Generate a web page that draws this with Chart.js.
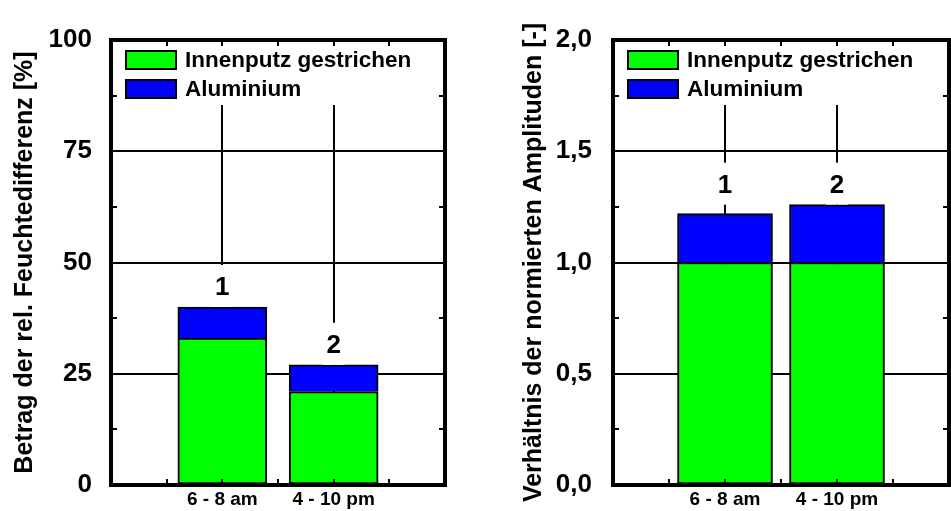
<!DOCTYPE html>
<html>
<head>
<meta charset="utf-8">
<script src="https://cdn.jsdelivr.net/npm/chart.js"></script>
<style>
  html, body { margin: 0; padding: 0; background: #fff; }
  #wrap { position: relative; width: 951px; height: 511px; }
  #left { position: absolute; left: 0; top: 0; }
  #right { position: absolute; left: 480px; top: 0; }
</style>
</head>
<body>
<div id="wrap">
  <canvas id="left" width="480" height="511"></canvas>
  <canvas id="right" width="471" height="511"></canvas>
</div>
<script>
// data
const categories = ['6 - 8 am', '4 - 10 pm'];
const barNumbers = ['1', '2'];
const seriesNames = ['Innenputz gestrichen', 'Aluminium'];
const seriesColors = ['#00ff00', '#0000ff'];

// left chart: Betrag der rel. Feuchtedifferenz [%]
const leftInnenputz = [33, 21];
const leftAluminium = [7, 6];
const leftTicks = [0, 25, 50, 75, 100];

// right chart: Verhältnis der normierten Amplituden [-]
const rightInnenputz = [1.0, 1.0];
const rightAluminium = [0.22, 0.26];
const rightTicks = [0, 0.5, 1.0, 1.5, 2.0];

const FONT = "'Liberation Sans', Arial, sans-serif";

// bars sit on every second slot of a 0..6 axis
const slot = i => 2 * (i + 1);
function slotLabel(v) {
    const i = v / 2 - 1;
    return Number.isInteger(i) && i >= 0 && i < categories.length ? categories[i] : '';
}

// legend, bar numbers and frame with inner ticks
const framePlugin = {
    id: 'frame',
    afterDatasetsDraw(chart, args, opts) {
        const { ctx, chartArea: a } = chart;
        ctx.save();

        // numbers above the bars
        const tops = chart.getDatasetMeta(1).data;
        const minY = Math.min(...tops.map(b => b.y));
        ctx.font = 'bold 26px ' + FONT;
        ctx.textAlign = 'center';
        ctx.textBaseline = 'middle';
        tops.forEach((b, i) => {
            const cy = (opts.labelMode === 'max' ? minY : b.y) - 20;
            ctx.fillStyle = '#fff';
            ctx.fillRect(b.x - 11, cy - 22, 22, 42);
            ctx.fillStyle = '#000';
            ctx.fillText(barNumbers[i], b.x, cy + 1);
        });

        // legend
        ctx.fillStyle = '#fff';
        ctx.fillRect(a.left + 2, a.top + 2, a.right - a.left - 4, 63);
        ctx.font = 'bold 22.5px ' + FONT;
        ctx.textAlign = 'left';
        seriesNames.forEach((name, k) => {
            const y = a.top + 11 + k * 29;
            ctx.fillStyle = seriesColors[k];
            ctx.fillRect(a.left + 15, y, 50, 18);
            ctx.lineWidth = 2;
            ctx.strokeStyle = '#000';
            ctx.strokeRect(a.left + 15, y, 50, 18);
            ctx.fillStyle = '#000';
            ctx.fillText(name, a.left + 74, y + 10);
        });

        // inner tick marks
        const ys = chart.scales.y, xs = chart.scales.x;
        const step = (ys.max - ys.min) / 8;
        ctx.lineWidth = 2;
        ctx.beginPath();
        for (let v = ys.min; v <= ys.max + 1e-9; v += step) {
            const py = Math.round(ys.getPixelForValue(v));
            ctx.moveTo(a.left, py); ctx.lineTo(a.left + 6, py);
            ctx.moveTo(a.right, py); ctx.lineTo(a.right - 6, py);
        }
        for (let v = xs.min + 1; v < xs.max; v++) {
            const px = Math.round(xs.getPixelForValue(v));
            ctx.moveTo(px, a.top); ctx.lineTo(px, a.top + 6);
            ctx.moveTo(px, a.bottom); ctx.lineTo(px, a.bottom - 6);
        }
        ctx.stroke();

        // frame
        ctx.lineWidth = 4;
        ctx.strokeRect(a.left, a.top, a.right - a.left, a.bottom - a.top);
        ctx.restore();
    }
};

function makeChart(id, o) {
    const lo = o.ticks[0];
    const hi = o.ticks[o.ticks.length - 1];
    const bar = (label, values, color, skipped) => ({
        label: label,
        data: values.map((v, i) => ({ x: slot(i), y: v })),
        backgroundColor: color,
        borderColor: '#000',
        borderWidth: 2,
        borderSkipped: skipped,
        barThickness: o.barWidth
    });
    return new Chart(document.getElementById(id), {
        type: 'bar',
        data: {
            datasets: [
                bar(seriesNames[0], o.green, seriesColors[0], false),
                bar(seriesNames[1], o.blue, seriesColors[1], 'bottom')
            ]
        },
        options: {
            responsive: false,
            animation: false,
            layout: { padding: { top: 40, right: o.padRight, left: 0, bottom: 0 } },
            plugins: {
                legend: { display: false },
                tooltip: { enabled: false },
                frame: { labelMode: o.labelMode }
            },
            scales: {
                x: {
                    type: 'linear',
                    stacked: true,
                    offset: false,
                    min: 0,
                    max: slot(categories.length),
                    afterFit: s => { s.height = 26; s.paddingLeft = 0; s.paddingRight = 0; },
                    border: { display: false },
                    grid: {
                        offset: false,
                        drawTicks: false,
                        lineWidth: 2,
                        color: c => (c.tick && slotLabel(c.tick.value) ? '#000' : 'rgba(0,0,0,0)')
                    },
                    ticks: {
                        stepSize: 1,
                        autoSkip: false,
                        maxRotation: 0,
                        padding: 3,
                        color: '#000',
                        font: { family: FONT, size: 19, weight: 'bold' },
                        callback: v => slotLabel(v)
                    }
                },
                y: {
                    stacked: true,
                    min: lo,
                    max: hi,
                    afterFit: s => { s.width = o.axisWidth; s.paddingTop = 0; s.paddingBottom = 0; },
                    border: { display: false },
                    grid: {
                        drawTicks: false,
                        lineWidth: 2,
                        color: c => (c.tick && c.tick.value > lo && c.tick.value < hi ? '#000' : 'rgba(0,0,0,0)')
                    },
                    ticks: {
                        stepSize: o.ticks[1] - o.ticks[0],
                        padding: o.tickPad,
                        color: '#000',
                        font: { family: FONT, size: 26, weight: 'bold' },
                        callback: o.fmt
                    },
                    title: {
                        display: true,
                        text: o.title,
                        color: '#000',
                        font: { family: FONT, size: 25, weight: 'bold' },
                        padding: { top: o.titlePad, bottom: 0 }
                    }
                }
            }
        },
        plugins: [framePlugin]
    });
}

makeChart('left', {
    green: leftInnenputz,
    blue: leftAluminium,
    ticks: leftTicks,
    title: 'Betrag der rel. Feuchtedifferenz [%]',
    fmt: v => String(v),
    axisWidth: 111,
    padRight: 35,
    tickPad: 19,
    titlePad: 10,
    barWidth: 89,
    labelMode: 'each'
});

makeChart('right', {
    green: rightInnenputz,
    blue: rightAluminium,
    ticks: rightTicks,
    title: 'Verhältnis der normierten Amplituden [-]',
    fmt: v => v.toFixed(1).replace('.', ','),
    axisWidth: 133,
    padRight: 2,
    tickPad: 21,
    titlePad: 39,
    barWidth: 95,
    labelMode: 'max'
});
</script>
</body>
</html>
